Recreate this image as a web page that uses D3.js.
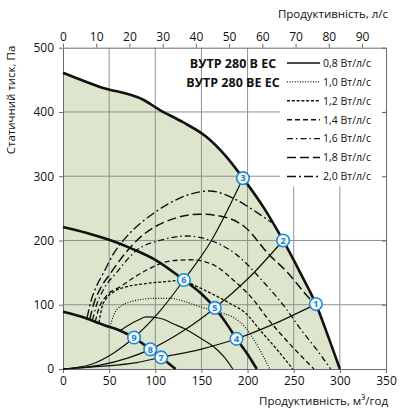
<!DOCTYPE html>
<html><head><meta charset="utf-8">
<script src="https://cdn.jsdelivr.net/npm/d3@7"></script>
<style>
body{margin:0;background:#fff}
svg{display:block}
text{font-family:"Open Sans",sans-serif;fill:#111}
</style>
</head><body>
<svg id="c" width="400" height="413"></svg>
<script>
// ---- data ----
const xTicks = [0,50,100,150,200,250,300,350];          // м³/год
const yTicks = [0,100,200,300,400,500];                 // Па
const lsTicks = [0,10,20,30,40,50,60,70,80,90];         // л/с

// fan curves (flow м³/год, pressure Па)
const curveMax = [[0,461],[40,439],[87,419],[105,403],[130,384],[155.6,361],[176,332],[195,297],[218,250],[238.5,200],[257,150],[274,101],[287,52],[300,0]];
const curveMid = [[0,221],[25,212],[50,201],[75,187],[100,170],[131,138.5],[150,117],[164.5,95],[177,71],[188,47],[200,23],[210,0]];
const curveMin = [[0,89],[25,79],[45,68],[62,59.6],[77,49],[94.6,30.6],[106.4,18],[122,0]];

// system (network) curves
const sysA = [[0,0],[40,4],[80,10],[106.4,18],[150,31],[188,47],[230,71],[274,101]];
const sysB = [[0,0],[40,6],[70,17],[94.6,30.6],[130,59],[164.5,95],[200,140],[238.5,200]];
const sysC = [[0,0],[30,7],[55,25],[77,49],[105,90],[131,138.5],[160,198],[195,297]];

// specific fan power curves
const sfpLabels = ["0,8 Вт/л/с","1,0 Вт/л/с","1,2 Вт/л/с","1,4 Вт/л/с","1,6 Вт/л/с","1,8 Вт/л/с","2,0 Вт/л/с"];
const sfp08 = [[62,60],[72,69],[80,75],[90,81],[105,79],[120,70],[134,61],[150,47],[163,35],[175,18],[184,0]];
const sfp10 = [[51,66],[55,84],[62,97],[80,107],[101,110],[116,110],[127,107],[148,97],[170,88],[185,80],[198,64],[210,38],[224,0]];
const sfp12 = [[39,72],[42,95],[47,110],[56,121],[69,128],[90,133],[112,136],[131,138.5],[140,132],[160,118],[181,102],[197,88],[215,58],[232,30],[249,0]];
const sfp14 = [[35,74],[39,95],[46,112],[62,128],[90.6,154],[115.8,168],[137.5,170],[160,164],[188,134],[205,110],[222,78],[245,40],[272,0]];
const sfp16 = [[32,76],[36,98],[44,124],[58,150],[80,185],[105,200],[134,207],[155.5,202],[188,178],[218.7,133],[240,97],[258,61],[275,30],[290,0]];
const sfp18 = [[29,77],[33,100],[40,124],[51,148],[63,172],[80,200],[98,220],[116,232],[148,241],[173.5,237],[197,221],[222,180],[244,149],[262,118],[272,102]];
const sfp20 = [[26,79],[30,104],[36,128],[44,150],[55,180],[69,206],[97.8,242],[126.6,266],[140,273],[159,277],[184,266],[209.6,244],[226,228]];

// operating points
const pointIds = [1,2,3,4,5,6,7,8,9];
const pointFlow = [274,238.5,195,188,164.5,131,106.4,94.6,77];
const pointPres = [101,200,297,47,95,138.5,18,30.6,49];

// ---- drawing ----
const svg = d3.select("#c");
const L=63,R=386,T=47.7,B=369;
const x = d3.scaleLinear().domain([0,350]).range([L,R]);
const y = d3.scaleLinear().domain([0,500]).range([B,T]);
const xl = d3.scaleLinear().domain([0,350/3.6]).range([L,R]);
const line = d3.line().x(d=>x(d[0])).y(d=>y(d[1])).curve(d3.curveMonotoneX);

// green area under max curve
const area = d3.area().x(d=>x(d[0])).y0(y(0)).y1(d=>y(d[1])).curve(d3.curveMonotoneX);
svg.append("path").datum(curveMax).attr("d",area).attr("fill","#dde5cd");

// grid
const g = svg.append("g").attr("stroke","#909090").attr("stroke-width",1);
xTicks.slice(1,-1).forEach(v=>g.append("line").attr("x1",x(v)).attr("x2",x(v)).attr("y1",T).attr("y2",B));
yTicks.slice(1,-1).forEach(v=>g.append("line").attr("x1",L).attr("x2",R).attr("y1",y(v)).attr("y2",y(v)));

// legend background box
svg.append("rect").attr("x",280).attr("y",T+0.5).attr("width",R-280-0.5).attr("height",186-T).attr("fill","#fff");

// axes
function styleAxis(sel){
  sel.selectAll("path.domain").attr("stroke","#6a6a6a");
  sel.selectAll(".tick line").attr("stroke","#6a6a6a");
  sel.selectAll(".tick text").attr("font-family","'Open Sans',sans-serif").attr("font-size",12).attr("fill","#111");
}
svg.append("g").attr("transform",`translate(0,${B})`)
  .call(d3.axisBottom(x).tickValues(xTicks).tickSize(4).tickSizeOuter(0).tickPadding(3)).call(styleAxis);
svg.append("g").attr("transform",`translate(${L},0)`)
  .call(d3.axisLeft(y).tickValues(yTicks).tickSize(4).tickSizeOuter(0).tickPadding(5)).call(styleAxis);
svg.append("g").attr("transform",`translate(0,${T})`)
  .call(d3.axisTop(xl).tickValues(lsTicks).tickSize(4).tickSizeOuter(0).tickPadding(3)).call(styleAxis);
svg.append("g").attr("transform",`translate(${R},0)`)
  .call(d3.axisRight(y).tickValues(yTicks).tickSize(-4).tickSizeOuter(0).tickFormat("")).call(styleAxis);

// system curves
[sysA,sysB,sysC].forEach(c=>svg.append("path").datum(c).attr("d",line)
  .attr("fill","none").attr("stroke","#111").attr("stroke-width",1.2));

// SFP curves
const sfpCurves=[sfp08,sfp10,sfp12,sfp14,sfp16,sfp18,sfp20];
const dashes=[null,"1,1.6","3,1.8","5,3","6,3,1.5,3","9,4","9,3,2,3"];
const widths=[1.2,1.2,1.3,1.3,1.3,1.5,1.4];
sfpCurves.forEach((c,i)=>svg.append("path").datum(c).attr("d",line)
  .attr("fill","none").attr("stroke","#111").attr("stroke-width",widths[i])
  .attr("stroke-dasharray",dashes[i]));

// fan curves
[curveMax,curveMid,curveMin].forEach(c=>svg.append("path").datum(c).attr("d",line)
  .attr("fill","none").attr("stroke","#111").attr("stroke-width",2.6));

// operating points
const pts = svg.append("g");
pointIds.forEach((id,i)=>{
  const cx=x(pointFlow[i]), cy=y(pointPres[i]);
  pts.append("circle").attr("cx",cx).attr("cy",cy).attr("r",6.3)
    .attr("fill","#f2f7fb").attr("stroke","#1e8ad4").attr("stroke-width",1.6);
  pts.append("text").attr("x",cx).attr("y",cy+3.2).attr("text-anchor","middle")
    .attr("font-size",9).attr("font-weight","bold").style("fill","#1e7cc4").text(id);
});

// legend
const lg = svg.append("g");
lg.append("text").attr("x",233).attr("y",68).attr("text-anchor","middle")
  .attr("font-size",12.5).attr("font-weight","bold").text("ВУТР 280 В ЕС");
lg.append("text").attr("x",233).attr("y",87).attr("text-anchor","middle")
  .attr("font-size",12.5).attr("font-weight","bold").text("ВУТР 280 ВЕ ЕС");
sfpLabels.forEach((t,i)=>{
  const yy=63+i*18.9;
  lg.append("line").attr("x1",287).attr("x2",320).attr("y1",yy).attr("y2",yy)
    .attr("stroke","#111").attr("stroke-width",widths[i]+0.1).attr("stroke-dasharray",dashes[i]);
  lg.append("text").attr("x",323).attr("y",yy+3.8).attr("font-size",10.5).text(t);
});

// titles
svg.append("text").attr("x",388).attr("y",18).attr("text-anchor","end").attr("font-size",11.5).text("Продуктивність, л/с");
svg.append("text").attr("x",388).attr("y",405).attr("text-anchor","end").attr("font-size",11.5).text("Продуктивність, м³/год");
svg.append("text").attr("transform","translate(15,100) rotate(-90)").attr("text-anchor","middle").attr("font-size",11.5).text("Статичний тиск, Па");
</script>
</body></html>
